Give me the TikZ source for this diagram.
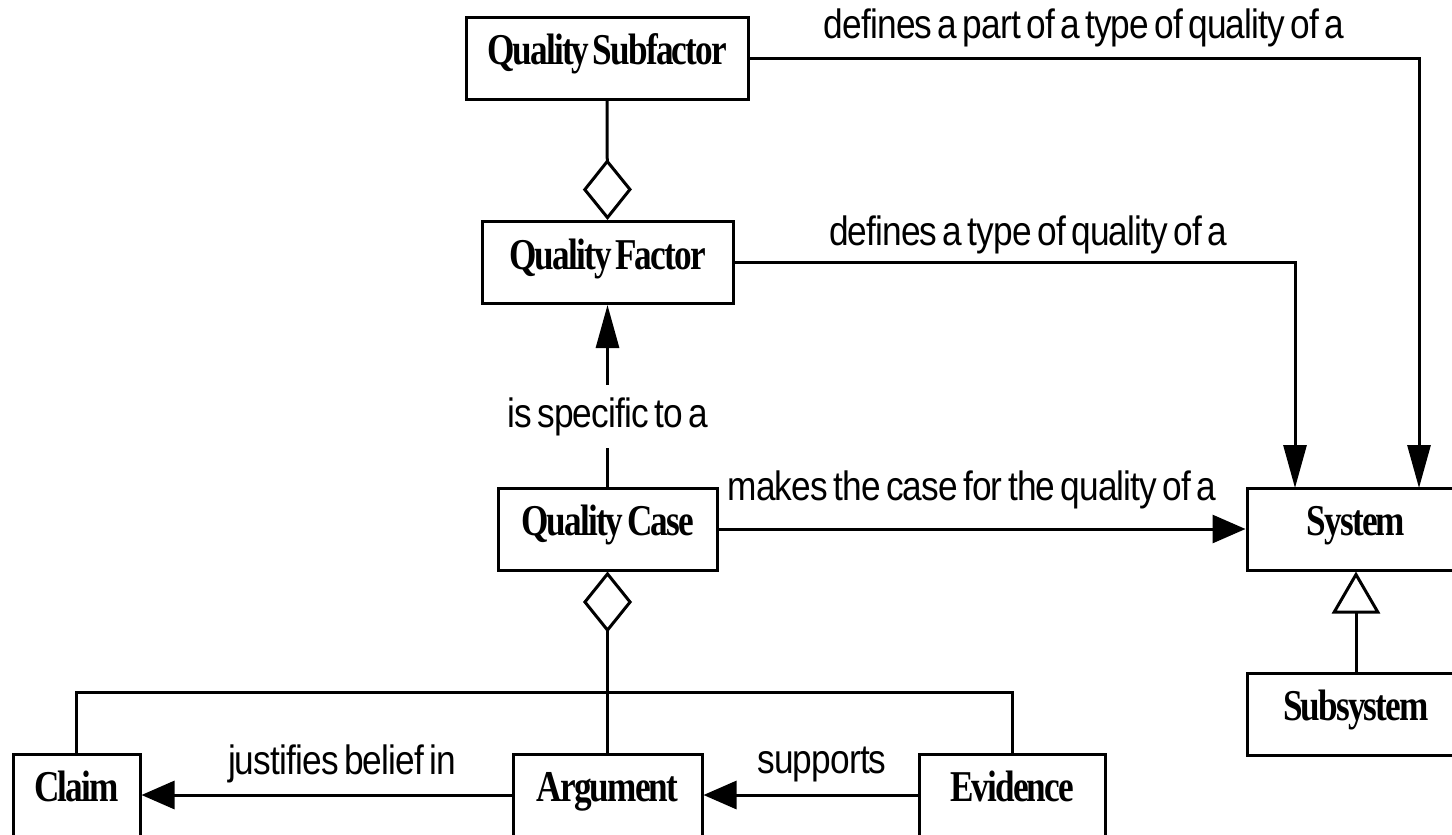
\documentclass[tikz,border=0pt]{standalone}
\usepackage{fontspec}
\usepackage{tikz}
\usetikzlibrary{arrows.meta}
\newfontface\boxfont[FakeStretch=0.8,LetterSpace=-4.2,WordSpace=0.5]{Liberation Serif Bold}
\newfontface\labelfont[FakeStretch=0.86,LetterSpace=-2.1,WordSpace=0.6]{Liberation Sans}
\tikzset{
  umlbox/.style={draw,line width=1.5pt,fill=white,minimum height=41pt,inner sep=0pt,
    text height=0.66em,text depth=0pt,font=\boxfont\fontsize{22}{26}\selectfont},
  assoc/.style={inner sep=0pt,font=\labelfont\fontsize{20.5}{24}\selectfont},
  link/.style={line width=1.5pt},
  harrow/.style={link,-{Triangle[length=16.5pt,width=14pt]}},
  varrow/.style={link,-{Triangle[length=21.5pt,width=11.5pt]}},
  aggr/.style={link,{Diamond[open,length=30.5pt,width=24.5pt,fill=white]}-},
  inherit/.style={link,-{Triangle[open,length=21pt,width=24pt,fill=white]}}
}

\begin{document}
\begin{tikzpicture}[x=0.5pt,y=-0.5pt]
\useasboundingbox (0,0) rectangle (1452,835);

\node[umlbox,minimum width=141pt] (qsub) at (607,58) {Quality Subfactor};
\node[umlbox,minimum width=125.5pt] (qfac) at (607.5,262.5) {Quality Factor};
\node[umlbox,minimum width=109.5pt] (qcase) at (607.5,529) {Quality Case};
\node[umlbox,minimum width=109pt] (system) at (1356,529) {System};
\node[umlbox,minimum width=109pt] (subsys) at (1356,714) {Subsystem};
\node[umlbox,minimum width=63.5pt] (claim) at (76.5,795) {Claim};
\node[umlbox,minimum width=94.5pt] (argument) at (607.5,795) {Argument};
\node[umlbox,minimum width=93pt] (evidence) at (1012,795) {Evidence};

\node[assoc] (partlbl) at (1084,28) {defines a part of a type of quality of a};
\node[assoc] (typelbl) at (1028,235) {defines a type of quality of a};
\node[assoc,inner ysep=6pt] (speclbl) at (607.5,416.5) {is specific to a};
\node[assoc] (caselbl) at (972,490) {makes the case for the quality of a};
\node[assoc] (justlbl) at (342,764) {justifies belief in};
\node[assoc] (suplbl) at (822,764) {supports};

\coordinate (sysA) at (1295,488);
\coordinate (sysB) at (1419,488);
\coordinate (bus) at (607.5,692);

\draw[aggr] (qfac.north) -- (qsub.south);
\draw[varrow] (qsub.east) -| (sysB);
\draw[varrow] (qfac.east) -| (sysA);
\draw[link] (qcase.north) -- (speclbl.south);
\draw[varrow] (speclbl.north) -- (qfac.south);
\draw[harrow] (qcase.east) -- (system.west);
\draw[inherit] (subsys.north) -- (system.south);
\draw[aggr] (qcase.south) -- (argument.north);
\draw[link] (claim.north) |- (bus) -| (evidence.north);
\draw[harrow] (argument.west) -- (claim.east);
\draw[harrow] (evidence.west) -- (argument.east);
\end{tikzpicture}
\end{document}
